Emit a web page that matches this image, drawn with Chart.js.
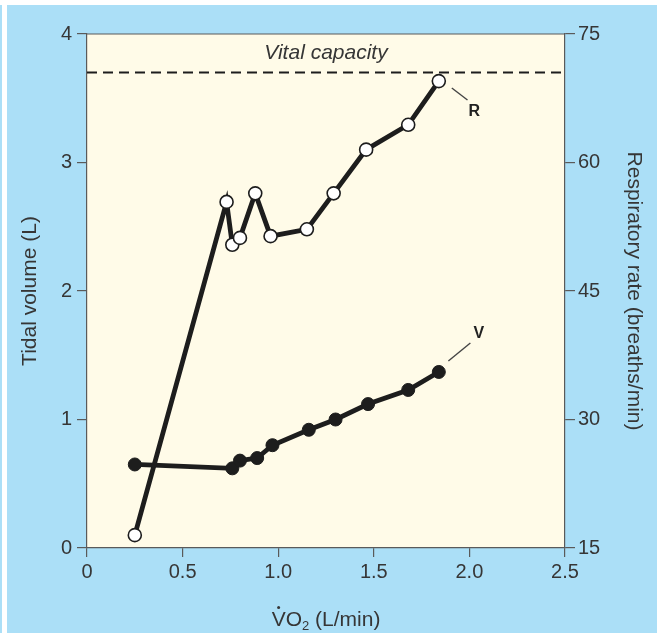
<!DOCTYPE html>
<html>
<head>
<meta charset="utf-8">
<script src="https://cdn.jsdelivr.net/npm/chart.js@4.4.1/dist/chart.umd.min.js"></script>
<style>
  html,body{margin:0;padding:0;background:#fff;}
  #c{display:block;}
</style>
</head>
<body>
<canvas id="c" width="657" height="633"></canvas>
<script>
// respiratory rate (R, open circles, right axis) against VO2
const vo2R = [0.25, 0.73, 0.76, 0.80, 0.88, 0.96, 1.15, 1.29, 1.46, 1.68, 1.84];
const respRate = [16.5, 55.4, 50.4, 51.2, 56.4, 51.4, 52.2, 56.4, 61.5, 64.4, 69.5];
// tidal volume (V, filled circles, left axis) against VO2
const vo2V = [0.25, 0.76, 0.80, 0.89, 0.97, 1.16, 1.30, 1.47, 1.68, 1.84];
const tidalVol = [0.65, 0.62, 0.68, 0.70, 0.80, 0.92, 1.00, 1.12, 1.23, 1.37];
const vitalCapacity = 3.7;
const xTicks = [0, 0.5, 1.0, 1.5, 2.0, 2.5];
const tvTicks = [0, 1, 2, 3, 4];
const rrTicks = [15, 30, 45, 60, 75];

const BLUE = "#abdff7", CREAM = "#fffbe8", INK = "#1d1d1d", AXIS = "#5a5a5a", TEXT = "#363636";
const FONT = "'Liberation Sans', Arial, Helvetica, sans-serif";

function setTicks(list){ return s => { s.ticks = list.map(v => ({ value: v })); }; }

const decor = {
  id: "decor",
  beforeDraw(chart){
    const c = chart.ctx, a = chart.chartArea;
    c.save();
    c.fillStyle = "#fff"; c.fillRect(0, 0, chart.width, chart.height);
    c.fillStyle = BLUE;
    c.fillRect(0, 5, 2, chart.height - 5);
    c.fillRect(7, 5, chart.width - 7, chart.height - 5);
    c.fillStyle = CREAM; c.fillRect(a.left, a.top, a.right - a.left, a.bottom - a.top);
    c.strokeStyle = AXIS; c.lineWidth = 1.2;
    c.beginPath(); c.moveTo(a.left, a.top); c.lineTo(a.right, a.top); c.stroke();
    c.restore();
  },
  afterDatasetsDraw(chart){
    const c = chart.ctx, a = chart.chartArea, sx = chart.scales.x, sy = chart.scales.y;
    const px = v => sx.getPixelForValue(v), py = v => sy.getPixelForValue(v);
    c.save();
    // vital capacity reference line
    c.strokeStyle = INK; c.lineWidth = 2; c.setLineDash([10, 6]);
    c.beginPath(); c.moveTo(a.left, py(vitalCapacity)); c.lineTo(a.right, py(vitalCapacity)); c.stroke();
    c.setLineDash([]);
    c.fillStyle = TEXT; c.textAlign = "center"; c.textBaseline = "middle";
    c.font = "italic 21px " + FONT;
    c.fillText("Vital capacity", px(1.25), py(3.85));
    // series tags with leader lines
    c.lineWidth = 1.4; c.strokeStyle = "#444";
    c.beginPath(); c.moveTo(px(1.908), py(3.58)); c.lineTo(px(1.99), py(3.486)); c.stroke();
    c.beginPath(); c.moveTo(px(1.89), py(1.455)); c.lineTo(px(2.005), py(1.595)); c.stroke();
    c.fillStyle = "#222"; c.font = "bold 16px " + FONT;
    c.fillText("R", px(2.025), py(3.40));
    c.fillText("V", px(2.05), py(1.665));
    // x axis title: V with overdot, subscript 2
    const big = "21px " + FONT, small = "13px " + FONT;
    c.font = big; c.fillStyle = TEXT; c.textAlign = "left"; c.textBaseline = "alphabetic";
    const wV = c.measureText("V").width, wO = c.measureText("O").width, wRest = c.measureText(" (L/min)").width;
    c.font = small; const w2 = c.measureText("2").width;
    const total = wV + wO + w2 + wRest;
    let x = (a.left + a.right) / 2 - total / 2;
    const base = 626;
    c.font = big;
    c.fillText("V", x, base);
    c.beginPath(); c.arc(x + wV / 2, base - 18.5, 1.5, 0, Math.PI * 2); c.fill();
    x += wV; c.fillText("O", x, base); x += wO;
    c.font = small; c.fillText("2", x, base + 4); x += w2;
    c.font = big; c.fillText(" (L/min)", x, base);
    c.restore();
  }
};

const tickFont = { family: FONT, size: 20 };
const titleFont = { family: FONT, size: 21 };

new Chart(document.getElementById("c").getContext("2d"), {
  type: "scatter",
  data: {
    datasets: [
      { label: "R", yAxisID: "y1", showLine: true,
        data: vo2R.map((x, i) => ({ x, y: respRate[i] })),
        borderColor: INK, borderWidth: 4.8, pointRadius: 6.5,
        pointBackgroundColor: "#fff", pointBorderColor: INK, pointBorderWidth: 1.6 },
      { label: "V", yAxisID: "y", showLine: true,
        data: vo2V.map((x, i) => ({ x, y: tidalVol[i] })),
        borderColor: INK, borderWidth: 4.8, pointRadius: 6.5,
        pointBackgroundColor: INK, pointBorderColor: INK, pointBorderWidth: 1 }
    ]
  },
  options: {
    animation: false, responsive: false, devicePixelRatio: 1,
    layout: { padding: { top: 34, left: 0, right: 0, bottom: 0 } },
    plugins: { legend: { display: false }, tooltip: { enabled: false } },
    scales: {
      x: { type: "linear", position: "bottom", min: 0, max: 2.5,
        afterBuildTicks: setTicks(xTicks), afterFit: s => { s.height = 85; },
        grid: { drawOnChartArea: false, tickLength: 9, color: AXIS, lineWidth: 1.2 },
        border: { color: AXIS, width: 1.2 },
        ticks: { font: tickFont, color: TEXT, padding: 3, maxRotation: 0,
          callback: v => v === 0 ? "0" : v.toFixed(1) } },
      y: { type: "linear", position: "left", min: 0, max: 4,
        afterBuildTicks: setTicks(tvTicks), afterFit: s => { s.width = 87; },
        grid: { drawOnChartArea: false, tickLength: 10, color: AXIS, lineWidth: 1.2 },
        border: { color: AXIS, width: 1.2 },
        ticks: { font: tickFont, color: TEXT, padding: 5 },
        title: { display: true, text: "Tidal volume (L)", font: titleFont, color: TEXT, padding: { top: 18 } } },
      y1: { type: "linear", position: "right", min: 15, max: 75,
        afterBuildTicks: setTicks(rrTicks), afterFit: s => { s.width = 92; },
        grid: { drawOnChartArea: false, tickLength: 10, color: AXIS, lineWidth: 1.2 },
        border: { color: AXIS, width: 1.2 },
        ticks: { font: tickFont, color: TEXT, padding: 3 },
        title: { display: true, text: "Respiratory rate (breaths/min)", font: titleFont, color: TEXT, padding: { top: 11 } } }
    }
  },
  plugins: [decor]
});
</script>
</body>
</html>
